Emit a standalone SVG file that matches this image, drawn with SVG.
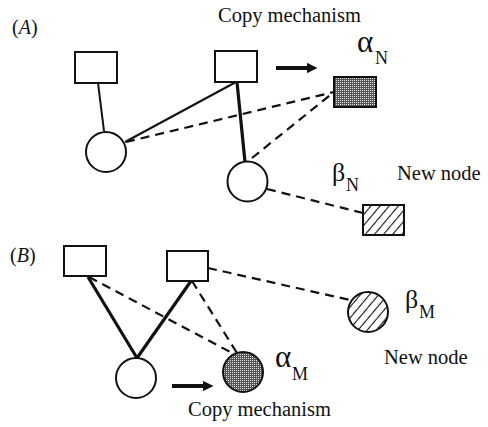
<svg xmlns="http://www.w3.org/2000/svg" width="488" height="427" viewBox="0 0 488 427">
  <style>
    .txt { font-family: "Liberation Serif", "Times New Roman", serif; font-size: 20.5px; fill: #111; }
    .lab { font-family: "Liberation Serif", "Times New Roman", serif; font-size: 20px; fill: #111; }
    .it { font-style: italic; }
    .alpha { font-family: "Liberation Serif", "Times New Roman", serif; font-size: 31px; fill: #111; }
    .beta { font-family: "Liberation Serif", "Times New Roman", serif; font-size: 26px; fill: #111; }
    .sub { font-family: "Liberation Serif", "Times New Roman", serif; font-size: 18px; fill: #111; }
    .node { fill: #fff; stroke: #111; stroke-width: 2; }
    .dot { fill: url(#dots); stroke: #111; stroke-width: 2; }
    .hat { fill: url(#hatch); stroke: #111; stroke-width: 2; }
    .thin { stroke: #111; stroke-width: 2; fill: none; }
    .thick { stroke: #111; stroke-width: 3.2; fill: none; }
    .dash { stroke: #111; stroke-width: 2.2; stroke-dasharray: 9 6; fill: none; }
    .arrow { stroke: #111; stroke-width: 4; fill: none; }
  </style>
  <defs>
    <pattern id="dots" width="2" height="2" patternUnits="userSpaceOnUse">
      <rect width="2" height="2" fill="#555"/>
      <rect width="1" height="1" fill="#e0e0e0"/>
    </pattern>
    <pattern id="hatch" width="7" height="7" patternUnits="userSpaceOnUse" patternTransform="rotate(40)">
      <rect width="7" height="7" fill="#fff"/>
      <line x1="3.5" y1="0" x2="3.5" y2="7" stroke="#111" stroke-width="1.1"/>
    </pattern>
    <marker id="head" viewBox="0 0 10 10" refX="2" refY="5" markerWidth="2.6" markerHeight="2.6" orient="auto" markerUnits="strokeWidth">
      <path d="M0,0 L10,5 L0,10 z" fill="#111"/>
    </marker>
  </defs>

  <!-- labels -->
  <text class="lab" x="12" y="34">(<tspan class="it">A</tspan>)</text>
  <text class="lab" x="10" y="262">(<tspan class="it">B</tspan>)</text>
  <text class="txt" x="218" y="22">Copy mechanism</text>
  <text class="txt" x="188" y="416">Copy mechanism</text>

  <!-- connectors -->
  <g id="connectors">
    <line class="thin" x1="98" y1="83" x2="104" y2="131"/>
    <line class="thin" x1="236" y1="82" x2="125" y2="142"/>
    <line class="thick" x1="237" y1="82" x2="245" y2="162"/>
    <line class="dash" x1="126" y1="142" x2="334" y2="92"/>
    <line class="dash" x1="252" y1="158" x2="334" y2="92"/>
    <line class="dash" x1="267" y1="189" x2="363" y2="213"/>
    <line class="arrow" x1="276" y1="68" x2="309" y2="68" marker-end="url(#head)"/>

    <line class="thick" x1="88" y1="277" x2="137" y2="358"/>
    <line class="thick" x1="191" y1="281" x2="137" y2="358"/>
    <line class="dash" x1="89" y1="277" x2="234" y2="354"/>
    <line class="dash" x1="192" y1="281" x2="237" y2="353"/>
    <line class="dash" x1="208" y1="268" x2="350" y2="300"/>
    <line class="arrow" x1="172" y1="386" x2="205" y2="386" marker-end="url(#head)"/>
  </g>

  <!-- panel A nodes -->
  <g id="A-rect1"><rect class="node" x="75" y="52" width="42" height="31"/></g>
  <g id="A-rect2"><rect class="node" x="215" y="51" width="42" height="31"/></g>
  <g id="A-circle1"><circle class="node" cx="106" cy="152" r="20"/></g>
  <g id="A-circle2"><circle class="node" cx="247.5" cy="181.5" r="20"/></g>
  <g id="alphaN">
    <rect class="dot" x="334" y="77" width="42" height="30"/>
    <text class="alpha" x="357" y="52">α</text>
    <text class="sub" x="375" y="64">N</text>
  </g>
  <g id="betaN">
    <rect class="hat" x="363" y="205" width="41" height="30"/>
    <text class="beta" x="332" y="181">β</text>
    <text class="sub" x="346" y="191">N</text>
    <text class="txt" x="397" y="180">New node</text>
  </g>

  <!-- panel B nodes -->
  <g id="B-rect1"><rect class="node" x="64" y="246" width="42" height="30"/></g>
  <g id="B-rect2"><rect class="node" x="167" y="251" width="41" height="30"/></g>
  <g id="B-circle1"><circle class="node" cx="136" cy="378" r="20"/></g>
  <g id="alphaM">
    <circle class="dot" cx="243" cy="372" r="20"/>
    <text class="alpha" x="275" y="367">α</text>
    <text class="sub" x="292" y="380">M</text>
  </g>
  <g id="betaM">
    <circle class="hat" cx="368" cy="312" r="20"/>
    <text class="beta" x="405" y="308">β</text>
    <text class="sub" x="419" y="318">M</text>
    <text class="txt" x="384" y="364">New node</text>
  </g>
</svg>
